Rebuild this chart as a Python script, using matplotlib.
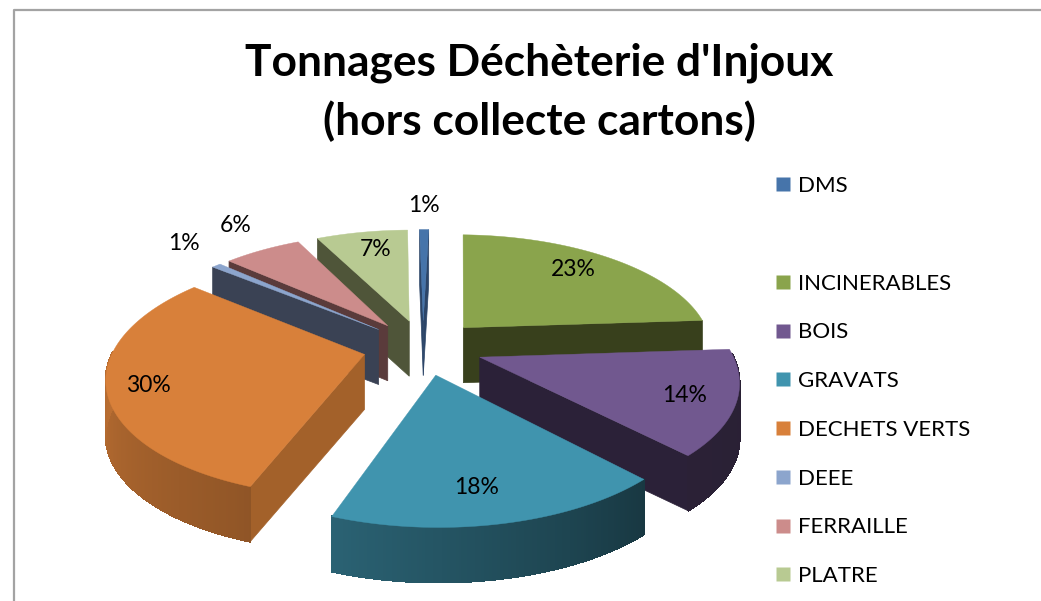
import numpy as np
import matplotlib
matplotlib.use('Agg')
import matplotlib.pyplot as plt
from matplotlib.colors import to_rgb
from matplotlib.lines import Line2D

categories = ['DMS', '', 'INCINERABLES', 'BOIS', 'GRAVATS', 'DECHETS VERTS',
              'DEEE', 'FERRAILLE', 'PLATRE']
values = [0.7, 0, 23.5, 14.0, 17.6, 30.4, 0.7, 6.0, 7.1]
percent_labels = ['1%', '', '23%', '14%', '18%', '30%', '1%', '6%', '7%']
top_colors = ['#4674aa', 'none', '#8aa44c', '#71588f', '#4094ae', '#d8803a',
              '#8ca5cd', '#cc8c8b', '#b8ca92']
wall_colors = ['#2c4568', 'none', '#38401c', '#2b2138', '#1a3d4a', '#a3612a',
               '#3a4254', '#5a3b3b', '#4f5539']
label_xy = [(424, 205), None, (573, 269), (685, 395), (477, 487), (148, 386),
            (184, 243), (236, 226), (376, 249)]

start_angle = -1.0
center = (423, 347)
radius_x = 250
radius_y = 115
explode = 0.24
persp = 5.8
depth = 55


def project(x, y, z=0):
    s = 1 / (1 + y / persp)
    return (center[0] + radius_x * x * s,
            center[1] - radius_y * y * s + depth * z)


def skirt_shade(a):
    return np.interp(a, [90, 137, 204, 270], [0.36, 0.38, 0.68, 0.86])


def rim(off, a):
    t = np.radians(a)
    return off[0] + np.sin(t), off[1] + np.cos(t)


def draw_slice(ax, a0, a1, top, wall):
    mid = np.radians((a0 + a1) / 2)
    off = (explode * np.sin(mid), explode * np.cos(mid))
    angles = np.linspace(a0, a1, max(int(a1 - a0) * 2, 3))

    # only the cut faces turned to the viewer are drawn
    for a, seen in ((a0, np.sin(np.radians(a0)) < 0),
                    (a1, np.sin(np.radians(a1)) > 0)):
        if seen:
            x, y = rim(off, a)
            pts = [project(off[0], off[1], 0), project(x, y, 0),
                   project(x, y, 1), project(off[0], off[1], 1)]
            ax.fill(*zip(*pts), color=wall, lw=0.5, zorder=1)

    rgb = np.array(to_rgb(top))
    for a, b in zip(angles[:-1], angles[1:]):
        if np.cos(np.radians((a + b) / 2)) > 0.03:
            continue
        xa, ya = rim(off, a)
        xb, yb = rim(off, b)
        pts = [project(xa, ya, 0), project(xb, yb, 0),
               project(xb, yb, 1), project(xa, ya, 1)]
        ax.fill(*zip(*pts), color=rgb * skirt_shade((a + b) / 2), lw=0.8,
                antialiased=False, zorder=1)

    pts = [project(off[0], off[1])] + [project(*rim(off, a)) for a in angles]
    ax.fill(*zip(*pts), color=top, lw=0.3, zorder=1)


fig = plt.figure(figsize=(10.41, 6.01), dpi=100)
ax = fig.add_axes([0, 0, 1, 1])
ax.set_xlim(0, 1041)
ax.set_ylim(601, 0)
ax.axis('off')

ax.plot([14, 14, 1041], [601, 10, 10], color='#a3a3a3', lw=1.6)

slices = []
angle = start_angle
for i, v in enumerate(values):
    if v > 0:
        sweep = v * 3.6
        slices.append((angle, angle + sweep, top_colors[i], wall_colors[i]))
        angle += sweep
slices.sort(key=lambda s: -np.cos(np.radians((s[0] + s[1]) / 2)))
for a0, a1, top, wall in slices:
    draw_slice(ax, a0, a1, top, wall)

ax.text(539, 92, "Tonnages Déchèterie d'Injoux\n(hors collecte cartons)",
        family='Lato', weight='bold', fontsize=31.9, ha='center', va='center',
        linespacing=1.5, color='black')

for text, xy in zip(percent_labels, label_xy):
    if xy:
        ax.text(xy[0], xy[1], text, family='Lato', fontsize=16.5, ha='center',
                va='center', color='black', zorder=3)

handles = [Line2D([], [], ls='none', marker='s', ms=10.5, mfc=c, mec='none')
           for c in top_colors]
ax.legend(handles, [c if c else ' ' for c in categories], loc='upper left',
          bbox_to_anchor=(772, 176), bbox_transform=ax.transData,
          frameon=False, numpoints=1, prop={'family': 'Lato', 'size': 16},
          labelspacing=1.295, handlelength=1.0, handletextpad=0.17,
          borderpad=0, borderaxespad=0)

fig.savefig('out.png', dpi=100)
